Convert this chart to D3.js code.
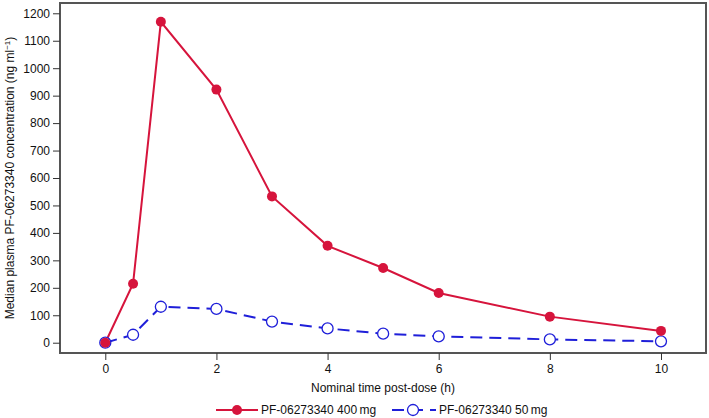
<!DOCTYPE html>
<html>
<head>
<meta charset="utf-8">
<script src="https://cdn.jsdelivr.net/npm/d3@7"></script>
<style>
  body { margin: 0; background: #fff; }
  text { font-family: "Liberation Sans", Arial, sans-serif; fill: #111; }
</style>
</head>
<body>
<svg id="chart" width="709" height="418"></svg>
<script>
// time points (h)
const times = [0, 0.5, 1, 2, 3, 4, 5, 6, 8, 10];
// median concentrations (ng/ml)
const dose400 = [0, 215, 1169, 922, 533, 353, 272, 181, 95, 43];
const dose50 = [0, 29, 131, 123, 77, 52, 33, 23, 12, 5];

const xTicks = [0, 2, 4, 6, 8, 10];
const yTicks = [0, 100, 200, 300, 400, 500, 600, 700, 800, 900, 1000, 1100, 1200];

const seriesNames = ["PF-06273340 400\u2009mg", "PF-06273340 50\u2009mg"];
const RED = "#d6143c";
const BLUE = "#1f1fd9";

const margin = { left: 60, top: 3, right: 3, bottom: 65 };
const W = 709, H = 418;

const svg = d3.select("#chart");

const x = d3.scaleLinear().domain([-0.815, 10.81]).range([margin.left, W - margin.right]);
const y = d3.scaleLinear().domain([-37.5, 1237.5]).range([H - margin.bottom, margin.top]);

// frame
svg.append("rect")
  .attr("x", x.range()[0])
  .attr("y", y.range()[1])
  .attr("width", x.range()[1] - x.range()[0])
  .attr("height", y.range()[0] - y.range()[1])
  .attr("fill", "none")
  .attr("stroke", "#555")
  .attr("stroke-width", 2);

const xAxis = svg.append("g")
  .attr("transform", `translate(0,${y.range()[0]})`)
  .call(d3.axisBottom(x).tickValues(xTicks).tickFormat(d3.format("d")).tickSize(7).tickPadding(4));
xAxis.select(".domain").remove();
xAxis.selectAll("line").attr("stroke", "#333");
xAxis.selectAll("text").attr("font-size", 12).attr("font-family", null);

const yAxis = svg.append("g")
  .attr("transform", `translate(${x.range()[0]},0)`)
  .call(d3.axisLeft(y).tickValues(yTicks).tickFormat(d3.format("d")).tickSize(7).tickPadding(3));
yAxis.select(".domain").remove();
yAxis.selectAll("line").attr("stroke", "#333");
yAxis.selectAll("text").attr("font-size", 12).attr("font-family", null);

// axis titles
svg.append("text")
  .attr("x", (x.range()[0] + x.range()[1]) / 2)
  .attr("y", 392)
  .attr("text-anchor", "middle")
  .attr("font-size", 12)
  .text("Nominal time post-dose (h)");

const yTitle = svg.append("text")
  .attr("transform", `translate(14,${(y.range()[0] + y.range()[1]) / 2}) rotate(-90)`)
  .attr("text-anchor", "middle")
  .attr("font-size", 12);
yTitle.append("tspan").text("Median plasma PF-06273340 concentration (ng ml");
yTitle.append("tspan").attr("baseline-shift", "super").attr("font-size", 8).text("\u22121");
yTitle.append("tspan").text(")");

const line = d3.line().x((d) => x(d[0])).y((d) => y(d[1]));

const data400 = times.map((t, i) => [t, dose400[i]]);
const data50 = times.map((t, i) => [t, dose50[i]]);

svg.append("path")
  .datum(data400)
  .attr("d", line)
  .attr("fill", "none")
  .attr("stroke", RED)
  .attr("stroke-width", 2);

svg.append("path")
  .datum(data50)
  .attr("d", line)
  .attr("fill", "none")
  .attr("stroke", BLUE)
  .attr("stroke-width", 2)
  .attr("stroke-dasharray", "12,7");

svg.append("g")
  .selectAll("circle")
  .data(data50)
  .join("circle")
  .attr("cx", (d) => x(d[0]))
  .attr("cy", (d) => y(d[1]))
  .attr("r", 5.5)
  .attr("fill", "#fff")
  .attr("stroke", BLUE)
  .attr("stroke-width", 1.3);

svg.append("g")
  .selectAll("circle")
  .data(data400)
  .join("circle")
  .attr("cx", (d) => x(d[0]))
  .attr("cy", (d) => y(d[1]))
  .attr("r", 5)
  .attr("fill", RED);

// legend
const legY = 410;
const leg = svg.append("g");
leg.append("line").attr("x1", 216).attr("x2", 258).attr("y1", legY).attr("y2", legY)
  .attr("stroke", RED).attr("stroke-width", 2);
leg.append("circle").attr("cx", 237).attr("cy", legY).attr("r", 5).attr("fill", RED);
leg.append("text").attr("x", 261).attr("y", legY + 4).attr("font-size", 12).text(seriesNames[0]);

leg.append("line").attr("x1", 392).attr("x2", 436).attr("y1", legY).attr("y2", legY)
  .attr("stroke", BLUE).attr("stroke-width", 2).attr("stroke-dasharray", "12,7");
leg.append("circle").attr("cx", 413).attr("cy", legY).attr("r", 5.5)
  .attr("fill", "#fff").attr("stroke", BLUE).attr("stroke-width", 1.3);
leg.append("text").attr("x", 439).attr("y", legY + 4).attr("font-size", 12).text(seriesNames[1]);
</script>
</body>
</html>
